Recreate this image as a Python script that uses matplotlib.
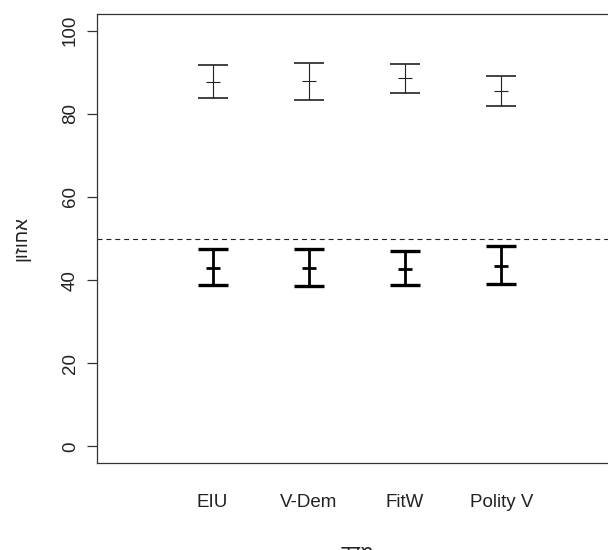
import numpy as np
import matplotlib.pyplot as plt

plt.rcParams['font.family'] = ['Liberation Sans', 'DejaVu Sans']

# index names (x axis)
indices = ["EIU", "V-Dem", "FitW", "Polity V"]

# upper group (thin bars): mean, lower, upper
high_mean = [87.7, 87.8, 88.6, 85.5]
high_low = [83.7, 83.4, 85.1, 81.8]
high_up = [91.8, 92.1, 92.0, 89.2]

# lower group (thick bars)
low_mean = [42.9, 42.9, 42.7, 43.5]
low_low = [38.7, 38.6, 38.7, 39.1]
low_up = [47.4, 47.4, 47.1, 48.2]

# hebrew labels, reversed for left-to-right drawing
xlabel = "מדד"[::-1]
ylabel = "אחוזון"[::-1]

fig = plt.figure(figsize=(6.08, 5.5), dpi=100)
ax = fig.add_axes([97/608, 87/550, 520/608, 449/550])

x = np.arange(1, len(indices) + 1)


def draw_bars(ax, mean, low, up, lw, col):
    mean = np.array(mean)
    yerr = [mean - np.array(low), np.array(up) - mean]
    ax.errorbar(x, mean, yerr=yerr, fmt='none', ecolor=col, elinewidth=lw,
                capsize=11, capthick=lw + 0.4)
    ax.plot(x, mean, linestyle='none', marker='_', markersize=10,
            markeredgewidth=lw, color=col)


draw_bars(ax, high_mean, high_low, high_up, 0.8, '#222222')
draw_bars(ax, low_mean, low_low, low_up, 2.0, '#000000')

ax.axhline(50, color='#222222', lw=0.8, linestyle=(0, (4.5, 3.5)))

ax.set_xlim(-0.2, 5.2)
ax.set_ylim(-4, 104)
ax.set_yticks([0, 20, 40, 60, 80, 100])
ax.set_yticklabels(["0", "20", "40", "60", "80", "100"], rotation=90,
                   va='center', fontsize=13.5, color='#222222')
ax.set_xticks(x)
ax.set_xticklabels(indices, fontsize=13.5, color='#222222')
ax.tick_params(axis='x', length=0, pad=22)
ax.tick_params(axis='y', length=7, width=0.9, color='#333333', pad=6)

for s in ax.spines.values():
    s.set_color('#333333')
    s.set_linewidth(0.9)

ax.set_xlabel(xlabel, fontsize=13.5, color='#222222', labelpad=25)
ax.set_ylabel(ylabel, fontsize=13.5, color='#222222', labelpad=23)

fig.savefig("out.png", dpi=100)
